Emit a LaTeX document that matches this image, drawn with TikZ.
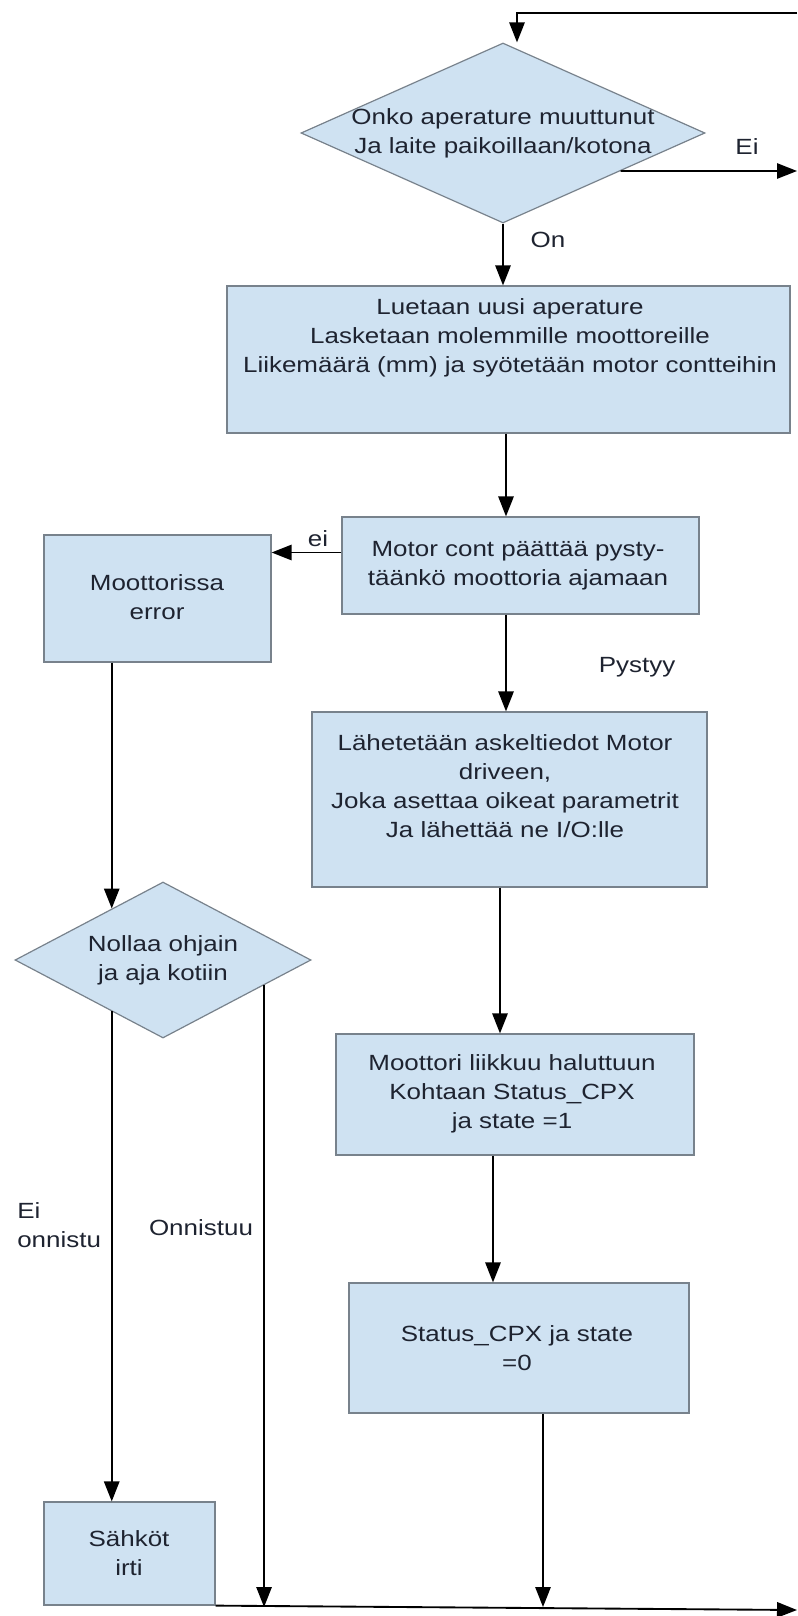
\documentclass[tikz,border=0pt]{standalone}
\usepackage{fontspec}
\setmainfont{Liberation Sans}[FakeStretch=1.18]
\usetikzlibrary{shapes.geometric,arrows.meta,calc}
\definecolor{boxfill}{RGB}{207,226,242}
\definecolor{boxline}{RGB}{120,130,140}
\definecolor{txt}{RGB}{30,35,48}

\begin{document}
\begin{tikzpicture}[x=0.75pt,y=0.75pt,yscale=-1,xscale=1,
  box/.style={draw=boxline,fill=boxfill,line width=0.9pt,inner sep=0pt},
  dia/.style={diamond,draw=boxline,fill=boxfill,line width=0.9pt,inner sep=0pt},
  txtnode/.style={inner sep=0pt,align=center,text=txt,font=\fontsize{16.5}{21.75}\selectfont},
  arr/.style={line width=1.4pt,-{Triangle[length=15pt,width=11.5pt]}}]
%set diagram size: 797 x 1616
\useasboundingbox (0,0) rectangle (797,1616);

%Shape: Diamond [id:d1]
\node[dia,minimum width=303pt,minimum height=135pt] (d1) at (503,133) {};
%Shape: Rectangle [id:b1]
\node[box,minimum width=422.25pt,minimum height=110.25pt] (b1) at (508.5,359.5) {};
%Shape: Rectangle [id:b2]
\node[box,minimum width=267.75pt,minimum height=72.75pt] (b2) at (520.5,565.5) {};
%Shape: Rectangle [id:err]
\node[box,minimum width=170.25pt,minimum height=95.25pt] (err) at (157.5,598.5) {};
%Shape: Rectangle [id:b3]
\node[box,minimum width=296.25pt,minimum height=131.25pt] (b3) at (509.5,799.5) {};
%Shape: Diamond [id:d2]
\node[dia,minimum width=222pt,minimum height=117pt] (d2) at (163,960) {};
%Shape: Rectangle [id:b4]
\node[box,minimum width=268.5pt,minimum height=90.75pt] (b4) at (515,1094.5) {};
%Shape: Rectangle [id:b5]
\node[box,minimum width=255pt,minimum height=97.5pt] (b5) at (519,1348) {};
%Shape: Rectangle [id:sahk]
\node[box,minimum width=128.25pt,minimum height=77.25pt] (sahk) at (129.5,1553.5) {};

% Text Node
\node[txtnode] (t1) at (503,133) {Onko aperature muuttunut\\Ja laite paikoillaan/kotona};
% Text Node
\node[txtnode] (t2) at (510,338) {Luetaan uusi aperature\\Lasketaan molemmille moottoreille\\Liikemäärä (mm) ja syötetään motor contteihin};
% Text Node
\node[txtnode] (t3) at (518,566) {Motor cont päättää pysty-\\täänkö moottoria ajamaan};
% Text Node
\node[txtnode] (t4) at (157,597) {Moottorissa\\error};
% Text Node
\node[txtnode] (t5) at (505,786) {Lähetetään askeltiedot Motor\\driveen,\\Joka asettaa oikeat parametrit\\Ja lähettää ne I/O:lle};
% Text Node
\node[txtnode] (t6) at (163,960) {Nollaa ohjain\\ja aja kotiin};
% Text Node
\node[txtnode] (t7) at (512,1094) {Moottori liikkuu haluttuun\\Kohtaan Status\_CPX\\ja state =1};
% Text Node
\node[txtnode] (t8) at (517,1348) {Status\_CPX ja state\\=0};
% Text Node
\node[txtnode] (t9) at (129,1553) {Sähköt\\irti};

% Text Node
\node[txtnode] (lei) at (747,147) {Ei};
% Text Node
\node[txtnode] (lon) at (548,240) {On};
% Text Node
\node[txtnode] (lei2) at (318,539) {ei};
% Text Node
\node[txtnode] (lpy) at (637,667) {Pystyy};
% Text Node
\node[txtnode,align=left,anchor=west] (leion) at (17,1225) {Ei\\onnistu};
% Text Node
\node[txtnode] (lon2) at (201,1228) {Onnistuu};

%Straight Lines
\coordinate (topr) at (797,13);
\draw[arr] (topr) -| ([xshift=10.5pt]d1.north);
%Straight Lines
\coordinate (eiend) at (797,171);
\draw[arr] ($(d1.east)!0.42!(d1.south)$) -- (eiend);
%Straight Lines
\draw[arr] (d1.south) -- (d1.south |- b1.north);
%Straight Lines
\coordinate (c1) at (506,0);
\draw[arr] (b1.south -| c1) -- (b2.north -| c1);
\draw[arr] (b2.south -| c1) -- (b3.north -| c1);
%Straight Lines
\draw[arr] ([yshift=-9.75pt]b2.west) -- ([yshift=-9.75pt]b2.west -| err.east);
%Straight Lines
\coordinate (c2) at (500,0);
\draw[arr] (b3.south -| c2) -- (b4.north -| c2);
\coordinate (c3) at (493,0);
\draw[arr] (b4.south -| c3) -- (b5.north -| c3);
%Straight Lines
\coordinate (botl) at (0,1607);
\coordinate (c4) at (543,0);
\draw[arr] (b5.south -| c4) -- (botl -| c4);
%Straight Lines
\coordinate (d2ul) at ($(d2.west)!0.655!(d2.north)$);
\draw[arr] (err.south -| d2ul) -- (d2ul);
\coordinate (d2ll) at ($(d2.west)!0.655!(d2.south)$);
\draw[arr] (d2ll) -- (d2ll |- sahk.north);
\coordinate (d2lr) at ($(d2.east)!0.32!(d2.south)$);
\draw[arr] (d2lr) -- (d2lr |- botl);
%Straight Lines
\coordinate (botr) at (797,1610);
\draw[arr] (sahk.south east) -- (botr);

\end{tikzpicture}
\end{document}
